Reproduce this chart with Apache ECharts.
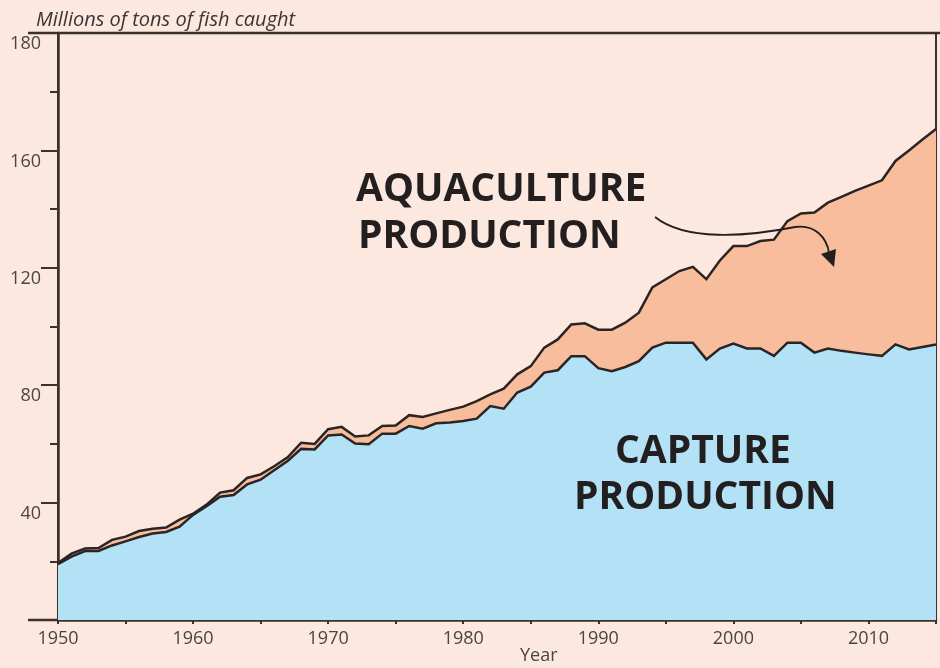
<!DOCTYPE html>
<html>
<head>
<meta charset="utf-8">
<script src="https://cdn.jsdelivr.net/npm/echarts@6/dist/echarts.min.js"></script>
<style>
  html, body { margin: 0; padding: 0; background: #fce8de; }
  #main { width: 940px; height: 668px; }
</style>
</head>
<body>
<div id="main"></div>
<script>
// years 1950-2015
var years = [];
for (var y = 1950; y <= 2015; y++) years.push(String(y));

// millions of tons
var capture = [
  19.0, 21.6, 23.5, 23.5, 25.4, 26.8, 28.3, 29.5, 30.0, 31.8,
  35.8, 38.8, 42.0, 42.6, 46.2, 47.8, 51.0, 54.2, 58.3, 58.1,
  62.9, 63.2, 60.1, 59.9, 63.5, 63.5, 66.1, 65.2, 67.0, 67.3,
  67.8, 68.6, 72.9, 72.0, 77.5, 79.5, 84.3, 85.1, 89.9, 89.9,
  85.8, 84.8, 86.2, 88.2, 92.8, 94.5, 94.5, 94.5, 88.8, 92.5,
  94.2, 92.5, 92.5, 90.0, 94.5, 94.5, 91.1, 92.5, 91.7, 91.1,
  90.5, 90.0, 93.9, 92.2, 93.0, 93.9
];
var aquaculture = [
  0.4, 1.0, 0.9, 1.0, 1.9, 1.6, 2.0, 1.6, 1.5, 2.4,
  0.4, 0.5, 1.4, 1.6, 2.2, 1.8, 1.4, 1.2, 2.1, 1.9,
  2.1, 2.6, 2.4, 3.0, 2.6, 2.8, 3.7, 4.0, 3.4, 4.3,
  4.9, 6.0, 4.0, 6.8, 6.2, 7.0, 8.5, 10.5, 10.8, 11.2,
  13.1, 14.1, 15.1, 16.5, 20.5, 21.6, 24.4, 25.8, 27.3, 30.0,
  33.2, 34.9, 36.6, 39.6, 41.4, 44.0, 47.7, 49.7, 52.5, 55.1,
  57.5, 59.8, 62.5, 67.8, 70.7, 73.4
];

// y tick labels as printed (top one reads 180)
var yTickValues = [0, 40, 80, 120, 160, 200];
var yTickLabels = ['', '40', '80', '120', '160', '180'];

var ink = '#3b302b';
var labelColor = '#4a4442';
var font = 'Open Sans';
var bigFont = 'bold 39px "Open Sans"';

var myChart = echarts.init(document.getElementById('main'));
myChart.setOption({
  animation: false,
  backgroundColor: '#fce8de',
  title: {
    text: 'Millions of tons of fish caught',
    left: 31,
    top: 5,
    textStyle: { fontFamily: font, fontStyle: 'italic', fontWeight: 'normal', fontSize: 20, color: '#3a3434' }
  },
  grid: {
    left: 58, right: 4, top: 33, bottom: 48,
    show: true, borderColor: ink, borderWidth: 2, backgroundColor: 'transparent'
  },
  xAxis: {
    type: 'category',
    data: years,
    boundaryGap: false,
    axisLine: { lineStyle: { color: ink, width: 2.5 } },
    axisTick: {
      length: 4,
      lineStyle: { color: ink, width: 2 },
      interval: function (i, v) { return Number(v) % 5 === 0; }
    },
    axisLabel: {
      margin: 10,
      fontFamily: font, fontSize: 18, color: labelColor,
      interval: function (i, v) { return Number(v) % 10 === 0; }
    },
    splitLine: { show: false }
  },
  yAxis: {
    type: 'value',
    min: 0, max: 200, interval: 40,
    axisLine: { show: true, lineStyle: { color: ink, width: 2.5 } },
    axisTick: { show: true, length: 17, lineStyle: { color: ink, width: 2 } },
    minorTick: { show: true, splitNumber: 2, length: 8, lineStyle: { color: ink, width: 2 } },
    axisLabel: {
      margin: 17,
      showMaxLabel: true,
      verticalAlign: 'top',
      padding: [2, 0, 0, 0],
      fontFamily: font, fontSize: 18, color: labelColor,
      formatter: function (v) {
        var k = yTickValues.indexOf(v);
        return k >= 0 ? yTickLabels[k] : '';
      }
    },
    splitLine: { show: false }
  },
  series: [
    {
      name: 'Capture production',
      type: 'line',
      stack: 'fish',
      z: 4,
      data: capture,
      symbol: 'none',
      lineStyle: { color: '#2a2424', width: 2.5, join: 'miter' },
      areaStyle: { color: '#b3e1f6', opacity: 1 }
    },
    {
      name: 'Aquaculture production',
      type: 'line',
      stack: 'fish',
      z: 3,
      data: aquaculture,
      symbol: 'none',
      lineStyle: { color: '#2a2424', width: 2.5, join: 'miter' },
      areaStyle: { color: '#f8bd9c', opacity: 1 }
    }
  ],
  graphic: [
    // axis extensions to the left
    { type: 'line', shape: { x1: 28, y1: 620, x2: 58, y2: 620 }, style: { stroke: ink, lineWidth: 2.5 }, z: 10 },
    { type: 'line', shape: { x1: 28, y1: 33, x2: 940, y2: 33 }, style: { stroke: ink, lineWidth: 2.5 }, z: 10 },
    { type: 'text', left: 520, top: 647, style: { text: 'Year', font: '18px "Open Sans"', fill: labelColor }, z: 10 },
    // annotations
    { type: 'text', left: 356, top: 170, style: { text: 'AQUACULTURE', font: bigFont, fill: '#231f20' }, z: 10 },
    { type: 'text', left: 358, top: 217, style: { text: 'PRODUCTION', font: bigFont, fill: '#231f20' }, z: 10 },
    { type: 'text', left: 615, top: 432, style: { text: 'CAPTURE', font: bigFont, fill: '#231f20' }, z: 10 },
    { type: 'text', left: 574, top: 478, style: { text: 'PRODUCTION', font: bigFont, fill: '#231f20' }, z: 10 },
    // arrow
    { type: 'bezierCurve', shape: { x1: 655, y1: 217, cpx1: 685, cpy1: 241, cpx2: 745, cpy2: 237, x2: 795, y2: 227 },
      style: { stroke: '#231f20', lineWidth: 1.8, fill: null }, z: 10 },
    { type: 'bezierCurve', shape: { x1: 795, y1: 227, cpx1: 815, cpy1: 224, cpx2: 827, cpy2: 238, x2: 829, y2: 253 },
      style: { stroke: '#231f20', lineWidth: 1.8, fill: null }, z: 10 },
    { type: 'polygon', shape: { points: [[821, 254], [836, 249], [834, 267]] }, style: { fill: '#231f20' }, z: 10 }
  ]
});
</script>
</body>
</html>
